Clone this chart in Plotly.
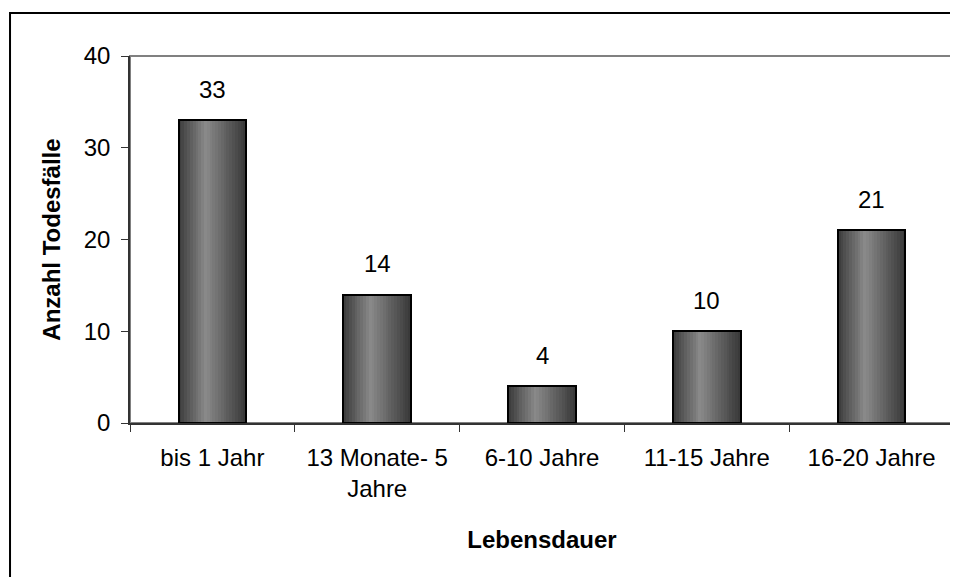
import plotly.graph_objects as go

categories = ["bis 1 Jahr", "13 Monate- 5<br>Jahre", "6-10 Jahre", "11-15 Jahre", "16-20 Jahre"]
deaths = [33, 14, 4, 10, 21]

FONT = "Liberation Sans, Arial, sans-serif"
FS = 24
BAR_W = 0.41
N_SLICES = 24


def shade(t):
    # dark edge -> light around 40% -> dark edge
    if t < 0.4:
        v = 58 + (138 - 58) * (t / 0.4)
    else:
        v = 138 - (138 - 55) * ((t - 0.4) / 0.6)
    v = int(round(v))
    return f"rgb({v},{v},{v})"


fig = go.Figure()

step = BAR_W / N_SLICES
for i in range(N_SLICES):
    fig.add_trace(
        go.Bar(
            x=categories,
            y=deaths,
            width=step * 1.05,
            offset=-BAR_W / 2 + i * step,
            marker=dict(color=shade((i + 0.5) / N_SLICES), line_width=0),
            showlegend=False,
            hoverinfo="skip",
        )
    )

# outline
fig.add_trace(
    go.Bar(
        x=categories,
        y=deaths,
        width=BAR_W,
        marker=dict(color="rgba(0,0,0,0)", line=dict(color="black", width=2)),
        showlegend=False,
    )
)

for c, v in zip(categories, deaths):
    fig.add_annotation(
        x=c, y=v, text=str(v), showarrow=False, yshift=31,
        font=dict(family=FONT, size=FS, color="black"),
    )

# plot-area frame (grey) and outer chart border
fig.add_shape(type="rect", xref="paper", yref="paper", x0=0, x1=1, y0=0, y1=1,
              line=dict(color="#808080", width=2), layer="below")
fig.add_shape(type="rect", xref="paper", yref="paper", x0=-0.1456, x1=1.1, y0=-0.5, y1=1.117,
              line=dict(color="black", width=2))

# page body adds an 8px margin, so the figure is 8px smaller than the window
fig.update_layout(
    width=950,
    height=569,
    barmode="overlay",
    bargap=0,
    plot_bgcolor="white",
    paper_bgcolor="white",
    margin=dict(l=122, r=4, t=48, b=154),
    font=dict(family=FONT, size=FS, color="black"),
    xaxis=dict(
        tickson="boundaries",
        ticks="outside",
        ticklen=7,
        tickcolor="#333",
        ticklabelstandoff=12,
        showline=True,
        linecolor="#333",
        linewidth=1.5,
        showgrid=False,
        title=dict(text="<b>Lebensdauer</b>", standoff=30, font=dict(size=FS)),
    ),
    yaxis=dict(
        range=[0, 40],
        tickvals=[0, 10, 20, 30, 40],
        ticks="outside",
        ticklen=7,
        tickcolor="#333",
        ticklabelstandoff=6,
        showline=True,
        linecolor="#333",
        linewidth=1.5,
        showgrid=False,
        zeroline=False,
        title=dict(text="<b>Anzahl Todesfälle</b>", standoff=16, font=dict(size=FS)),
    ),
)

fig.write_html("out.html")
